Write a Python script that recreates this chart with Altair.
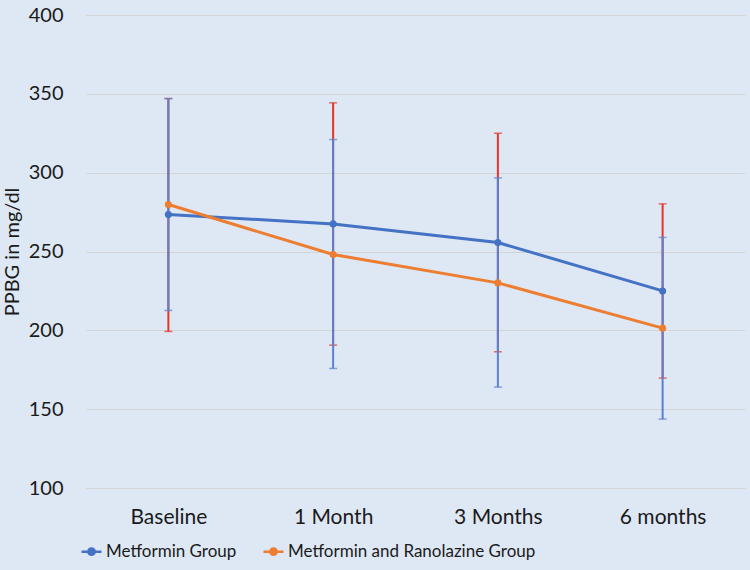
import altair as alt
import pandas as pd

categories = ["Baseline", "1 Month", "3 Months", "6 months"]
groups = ["Metformin Group", "Metformin and Ranolazine Group"]

metformin_mean = [273.5, 267.5, 255.7, 225.0]
metformin_low = [212.6, 175.8, 164.0, 143.7]
metformin_high = [347.0, 321.0, 296.7, 258.9]

combo_mean = [279.8, 248.1, 230.1, 201.4]
combo_low = [199.3, 190.6, 186.4, 169.7]
combo_high = [347.0, 344.3, 325.0, 280.2]

df = pd.DataFrame({
    "period": categories * 2,
    "group": [groups[0]] * 4 + [groups[1]] * 4,
    "mean": metformin_mean + combo_mean,
    "low": metformin_low + combo_low,
    "high": metformin_high + combo_high,
})

BG = "#DEE8F4"
BLUE = "#4472C4"
ORANGE = "#ED7D31"
ERR_BLUE = "#5B80CE"
ERR_RED = "#E5342B"
FONT = "Lato"
TXT = "#1a1a1a"

x_enc = alt.X("period:N", sort=categories, title=None,
              scale=alt.Scale(type="point", padding=0.5),
              axis=alt.Axis(labelAngle=0, domain=False, ticks=False, grid=False,
                            labelFontSize=21, labelPadding=18, labelColor=TXT,
                            labelFont=FONT))
y_scale = alt.Scale(domain=[100, 400], nice=False, zero=False)

base = alt.Chart(df)


def err_layers(group, color):
    b = base.transform_filter(alt.datum.group == group)
    rule = b.mark_rule(color=color, strokeWidth=2).encode(
        x=x_enc, y=alt.Y("low:Q", scale=y_scale), y2="high:Q")
    cap_lo = b.mark_tick(color=color, orient="horizontal", size=8, thickness=1.5).encode(
        x=x_enc, y=alt.Y("low:Q", scale=y_scale))
    cap_hi = b.mark_tick(color=color, orient="horizontal", size=8, thickness=1.5).encode(
        x=x_enc, y=alt.Y("high:Q", scale=y_scale))
    return [rule, cap_lo, cap_hi]


color_enc = alt.Color("group:N", scale=alt.Scale(domain=groups, range=[BLUE, ORANGE]),
                      sort=groups,
                      legend=alt.Legend(title=None, orient="none", direction="horizontal",
                                        legendX=-6, legendY=525,
                                        symbolType="M-1,0L1,0M-0.32,0a0.32,0.32 0 1,0 0.64,0a0.32,0.32 0 1,0 -0.64,0",
                                        symbolSize=400, symbolStrokeWidth=2.5,
                                        labelFontSize=17, labelFont=FONT, labelColor=TXT,
                                        labelOffset=3, columnPadding=21, labelLimit=400))

y_axis = alt.Axis(values=[100, 150, 200, 250, 300, 350, 400], domain=False, ticks=False,
                  grid=True, gridColor="#D4D4D4", gridWidth=1,
                  labelFontSize=20, labelFont=FONT, labelColor=TXT, labelPadding=23,
                  title="PPBG in mg/dl", titleFontSize=20, titleFont=FONT,
                  titleFontWeight="normal", titleColor=TXT,
                  titleX=-74, titleY=236.5, titleAngle=-90,
                  titleAlign="center", titleBaseline="middle")

lines = base.mark_line(strokeWidth=3).encode(
    x=x_enc,
    y=alt.Y("mean:Q", scale=y_scale, axis=y_axis),
    color=color_enc,
)
points = base.mark_point(filled=True, size=50, opacity=1).encode(
    x=x_enc,
    y=alt.Y("mean:Q", scale=y_scale),
    color=color_enc,
)

layers = err_layers(groups[1], ERR_RED) + err_layers(groups[0], ERR_BLUE)
line_b = lines.transform_filter(alt.datum.group == groups[0])
line_o = lines.transform_filter(alt.datum.group == groups[1])
pt_b = points.transform_filter(alt.datum.group == groups[0])
pt_o = points.transform_filter(alt.datum.group == groups[1])

chart = alt.layer(*layers, line_b, pt_b, line_o, pt_o).properties(
    width=659, height=473,
    autosize=alt.AutoSizeParams(type="none"),
    padding={"left": 86, "top": 15, "right": 5, "bottom": 82},
    background=BG,
).configure_view(stroke=None, fill=BG)

chart.save("out.html", embed_options={"renderer": "svg", "actions": False})
